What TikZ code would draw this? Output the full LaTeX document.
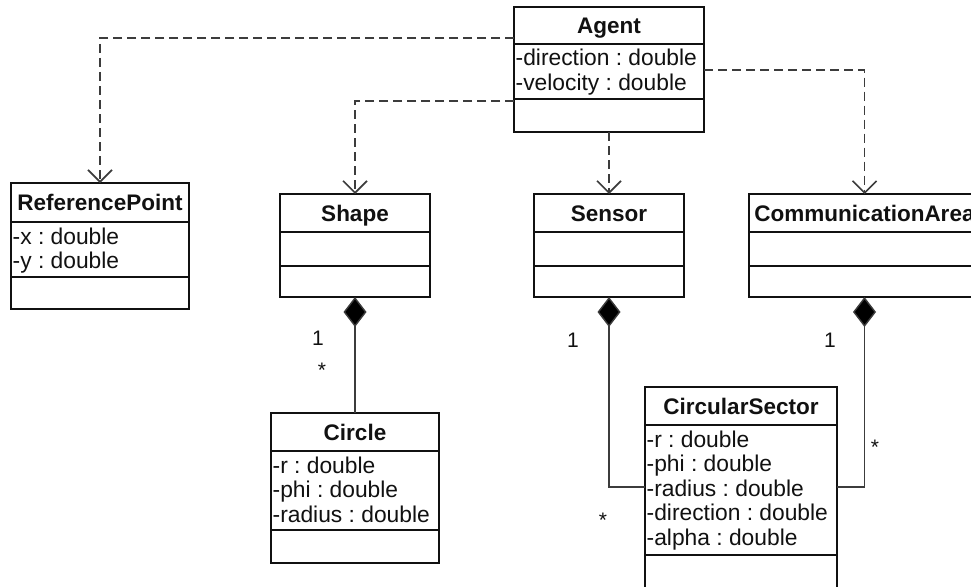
\documentclass[tikz,border=0pt]{standalone}
\usepackage{fontspec}
\setmainfont{Liberation Sans}
\usetikzlibrary{arrows.meta,calc}
\frenchspacing

\definecolor{inkline}{HTML}{111111}
\definecolor{connline}{HTML}{3C3C3C}

\tikzset{
  classbox/.style={draw=inkline, line width=1.8pt, inner sep=0pt, outer sep=0pt},
  classdiv/.style={draw=inkline, line width=1.8pt},
  titletext/.style={font=\fontsize{22.5}{24}\selectfont\bfseries, text=inkline, inner sep=0pt},
  attrtext/.style={font=\fontsize{22.8}{24}\selectfont, text=inkline, inner sep=0pt},
  multtext/.style={font=\fontsize{21}{23}\selectfont, text=inkline, inner sep=0pt},
  dependency/.style={draw=connline, line width=1.8pt, dash pattern=on 9pt off 5pt,
    -{Straight Barb[length=12pt, width=24pt, line width=1.6pt]}},
  composition/.style={draw=connline, line width=1.4pt,
    -{Diamond[length=30pt, width=23pt, fill=black]}},
}

% name, left, top, right, first divider, second divider, bottom, title, attributes
\newcommand\umlclass[9]{%
  \node[classbox, anchor=north west, minimum width={#4-#2}, minimum height={#7-#3}] (#1) at (#2,#3) {};
  \draw[classdiv] (#2,#5) -- (#4,#5);
  \draw[classdiv] (#2,#6) -- (#4,#6);
  \node[titletext, anchor=base] (#1-title) at ({(#2+#4)/2}, {(#3+#5)/2+8}) {#8};
  \foreach \a [count=\i] in {#9} {
    \node[attrtext, anchor=base west] at (#2+1.5, {#5+22+(\i-1)*24.6}) {\a};
  }%
}

\begin{document}
\begin{tikzpicture}[x=1pt, y=-1pt]
  \useasboundingbox (0,0) rectangle (971,586);
  \clip (0,0) rectangle (971,586);
  \fill[white] (0,0) rectangle (971,586);

  \umlclass{agent}{514}{7}{704}{44}{99}{132}{Agent}{-direction : double,-velocity : double}
  \umlclass{refpoint}{11}{183}{189}{222}{277}{309}{ReferencePoint}{-x : double,-y : double}
  \umlclass{shape}{280}{194}{430}{232}{266}{297}{Shape}{}
  \umlclass{sensor}{534}{194}{684}{232}{266}{297}{Sensor}{}
  \umlclass{comm}{749}{194}{980}{232}{266}{297}{CommunicationArea}{}
  \umlclass{circle}{271}{413}{439}{451}{530}{563}{Circle}{-r : double,-phi : double,-radius : double}
  \umlclass{sector}{645}{387}{837}{425}{555}{610}{CircularSector}{-r : double,-phi : double,-radius : double,-direction : double,-alpha : double}

  % dependencies from Agent
  \draw[dependency] ([yshift=-31pt]agent.north west) -| (refpoint.north);
  \draw[dependency] ([yshift=-94pt]agent.north west) -| (shape.north);
  \draw[dependency] (agent.south) -- (sensor.north);
  \draw[dependency] ([yshift=-63pt]agent.north east) -| (comm.north);

  % compositions
  \draw[composition] (circle.north) -- (shape.south);
  \draw[composition] ([yshift=-100pt]sector.north west) -| (sensor.south);
  \draw[composition] ([yshift=-100pt]sector.north east) -| (comm.south);

  % multiplicities
  \node[multtext] (m1) at (318,338) {1};
  \node[multtext] (m2) at (322,370) {*};
  \node[multtext] (m3) at (573,340) {1};
  \node[multtext] (m4) at (603,520) {*};
  \node[multtext] (m5) at (830,340) {1};
  \node[multtext] (m6) at (875,447) {*};
\end{tikzpicture}
\end{document}
